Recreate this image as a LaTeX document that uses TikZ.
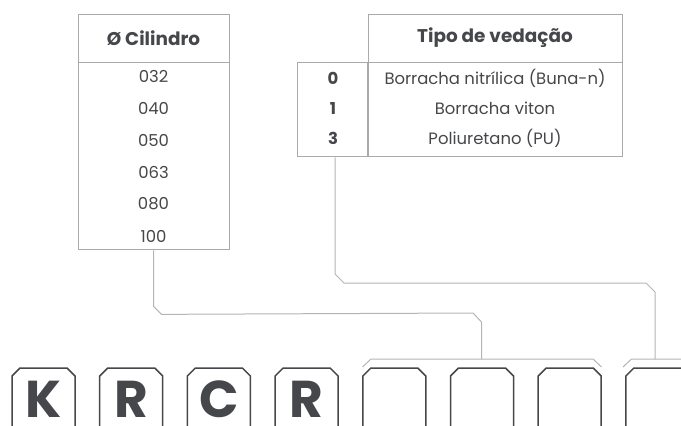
\documentclass[tikz,border=0pt]{standalone}
\usepackage{fontspec}
\setmainfont{Poppins}
\usepackage{xcolor}
\definecolor{ink}{RGB}{69, 71, 74}
\definecolor{rule}{RGB}{170, 170, 170}
\definecolor{wire}{RGB}{180, 180, 180}
\usepackage{tikz}
\usetikzlibrary{
    positioning
}
\tikzstyle{cell} = [
    rectangle, draw=rule,
    line width=0.9bp,
    inner sep=0pt,
    text=ink
]
\tikzstyle{entry} = [
    inner sep=0pt,
    text=ink,
    font=\fontsize{16.5}{17}\selectfont
]
\tikzstyle{head} = [
    inner sep=0pt,
    text=ink,
    font=\fontsize{18.5}{19}\selectfont\bfseries
]
\tikzstyle{keyentry} = [
    inner sep=0pt,
    text=ink,
    font=\fontsize{16.5}{17}\selectfont\bfseries
]
\tikzstyle{codebox} = [
    draw=ink,
    line width=1.5bp
]
\tikzstyle{letter} = [
    inner sep=0pt,
    text=ink,
    font=\fontsize{52}{52}\selectfont\bfseries
]
\tikzstyle{link} = [
    draw=wire,
    line width=1bp
]

\begin{document}
\begin{tikzpicture}[x=1bp, y=-1bp]

\useasboundingbox (0,0) rectangle (681,425);
\clip (0,0) rectangle (681,425);

% tabela do cilindro
\node (cilhead) [cell, minimum width=151bp, minimum height=48bp] at (153.5,38) {};
\node (cilbody) [cell, minimum width=151bp, minimum height=187bp, below=0pt of cilhead] {};
\node [head] at (cilhead) {Ø Cilindro};
\foreach \d [count=\i] in {032,040,050,063,080,100}
    \node (cil\i) [entry] at (153.5,{44+32*\i}) {\d};

% tabela da vedação
\node (vedhead) [cell, minimum width=254bp, minimum height=48bp] at (495,38) {};
\node (vedbody) [cell, minimum width=254bp, minimum height=94bp, below=0pt of vedhead] {};
\node (vedkey) [cell, minimum width=70bp, minimum height=94bp, left=0pt of vedbody] {};
\node [head] at (vedhead) {Tipo de vedação};
\foreach \k/\t [count=\i] in {0/Borracha nitrílica (Buna-n),1/Borracha viton,3/Poliuretano (PU)} {
    \node (key\i) [keyentry] at (333,{48+30*\i}) {\k};
    \node (ved\i) [entry] at (495,{48+30*\i}) {\t};
}

% casas do código
\foreach \c [count=\i] in {K,R,C,R,,,,} {
    \pgfmathsetmacro{\l}{12+87.7*(\i-1)}
    \pgfmathsetmacro{\r}{\l+63}
    \draw [codebox] (\l,440) -- (\l,376) -- (\l+8,368) -- (\r-8,368)
                    -- (\r,376) -- (\r,440);
    \node (chr\i) [letter] at (\l+31.5,399) {\c};
}

% chaves sobre as casas
\coordinate (braceA) at (481.5,359);
\coordinate (braceB) at (655,359);
\draw [link] (362.5,367) -- (371,359) -- (593,359) -- (601.5,367);
\draw [link] (623,367) -- (631.5,359) -- (700,359);

% ligações
\draw [link] (cilbody.south) -- ++(0,56) -- ++(8,8) -- (473,313)
             -- (481.5,322) -- (braceA);
\draw [link] (vedkey.south -| 335,0) -- (335,274) -- (344,283) -- (646,283)
             -- (655,292) -- (braceB);

\end{tikzpicture}
\end{document}
